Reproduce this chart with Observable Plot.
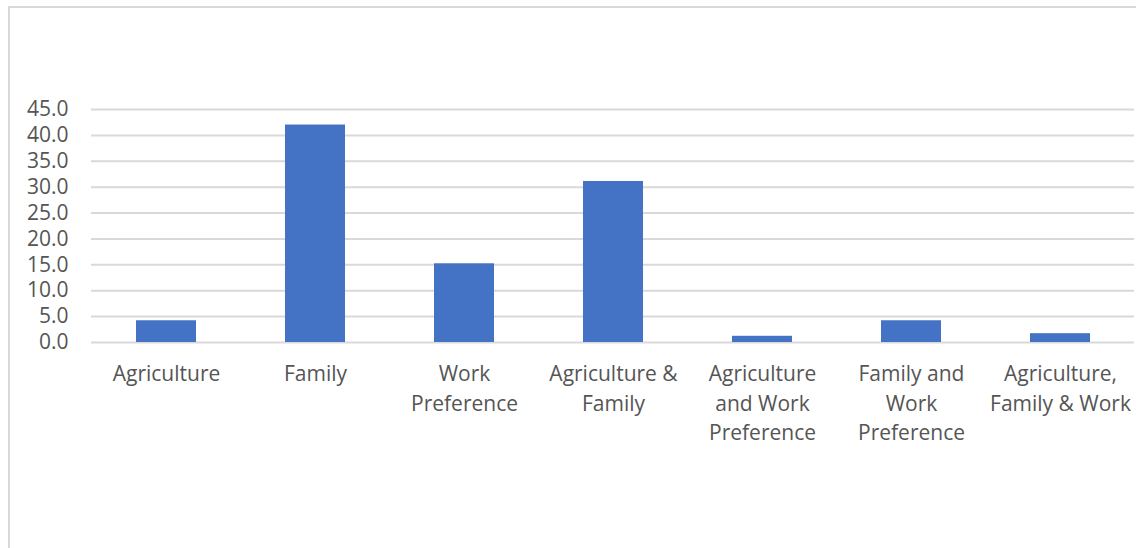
<!DOCTYPE html>
<html>
<head>
<meta charset="utf-8">
<script src="https://cdn.jsdelivr.net/npm/d3@7"></script>
<script src="https://cdn.jsdelivr.net/npm/@observablehq/plot@0.6"></script>
<style>
  html, body { margin: 0; padding: 0; background: #fff; }
  #wrap { position: relative; width: 1136px; height: 548px; overflow: hidden; }
  #frame { position: absolute; left: 8px; top: 6px; right: -2px; bottom: -2px;
           border-left: 2px solid #d9d9d9; border-top: 2px solid #d9d9d9; pointer-events: none; }
  svg { display: block; }
</style>
</head>
<body>
<div id="wrap"><div id="frame"></div></div>
<script>
const categories = ["Agriculture", "Family", "Work Preference", "Agriculture & Family",
  "Agriculture and Work Preference", "Family and Work Preference", "Agriculture, Family & Work"];
const values = [4.2, 42.0, 15.2, 31.1, 1.2, 4.2, 1.7];
const tickLabels = ["Agriculture", "Family", "Work\nPreference", "Agriculture &\nFamily",
  "Agriculture\nand Work\nPreference", "Family and\nWork\nPreference", "Agriculture,\nFamily & Work"];
const yTicks = [0, 5, 10, 15, 20, 25, 30, 35, 40, 45];

const data = categories.map((c, i) => ({category: c, value: values[i]}));
const labelOf = new Map(categories.map((c, i) => [c, tickLabels[i]]));

const chart = Plot.plot({
  width: 1136,
  height: 548,
  marginLeft: 91,
  marginRight: 2,
  marginTop: 109,
  marginBottom: 206,
  style: {fontFamily: "'Open Sans', sans-serif", fontSize: "21px", color: "#595959", background: "transparent"},
  x: {domain: categories, paddingInner: 0.6, paddingOuter: 0.3},
  y: {domain: [0, 45]},
  marks: [
    Plot.gridY(yTicks, {stroke: "#d9d9d9", strokeOpacity: 1, strokeWidth: 2}),
    Plot.barY(data, {x: "category", y: "value", fill: "#4472C4"}),
    Plot.axisY(yTicks, {tickSize: 0, tickPadding: 23, tickFormat: d => d.toFixed(1), fontSize: 21, fill: "#555555", label: null}),
    Plot.axisX({tickSize: 0, tickPadding: 18, tickFormat: d => labelOf.get(d), fontSize: 21, lineHeight: 1.405, fill: "#555555", label: null})
  ]
});
document.getElementById("wrap").insertBefore(chart, document.getElementById("frame"));
</script>
</body>
</html>
